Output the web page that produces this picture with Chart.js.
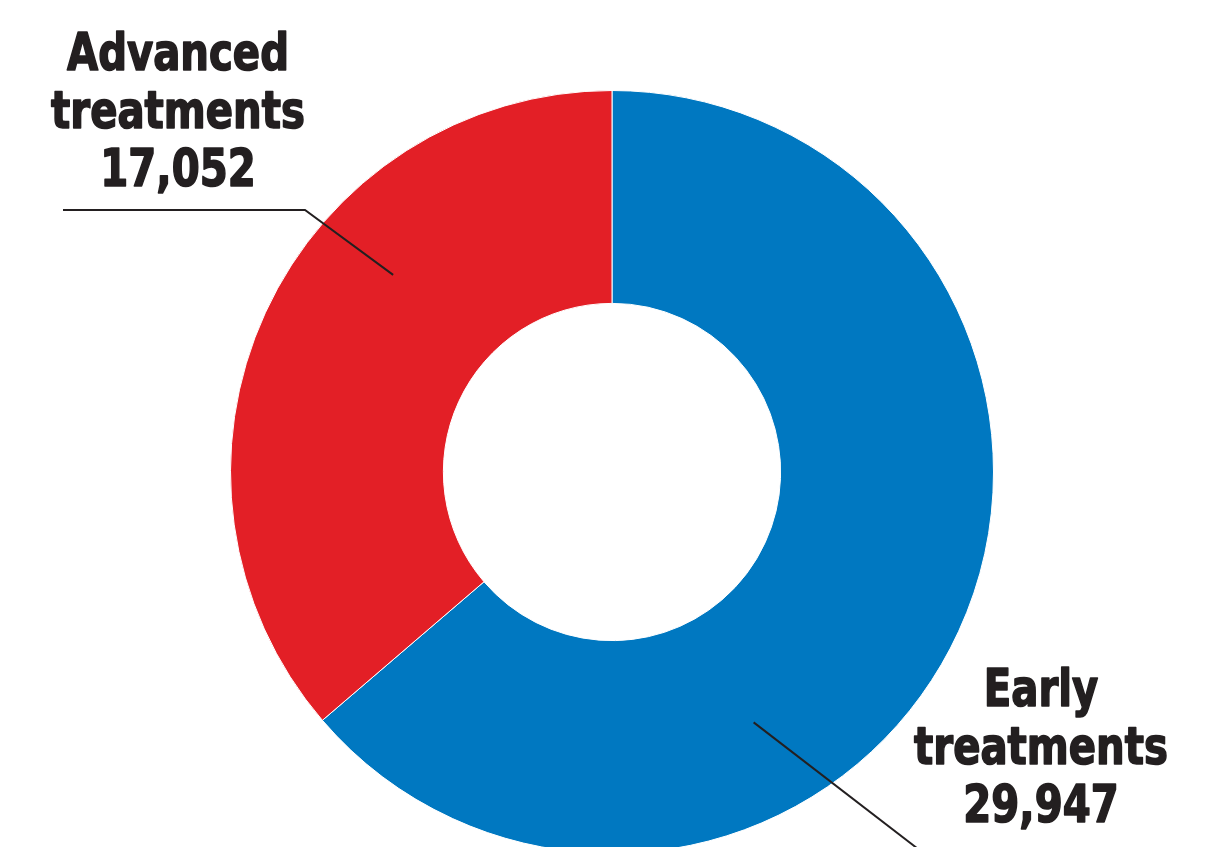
<!DOCTYPE html>
<html lang="en">
<head>
  <meta charset="UTF-8" />
  <title>Treatments</title>
  <script src="https://cdn.jsdelivr.net/npm/chart.js"></script>
  <style>
    html, body { margin: 0; padding: 0; background: #fff; overflow: hidden; }
    #wrap { width: 1219px; height: 847px; overflow: hidden; }
  </style>
</head>
<body>
  <div id="wrap">
    <canvas id="donut" width="1219" height="944"></canvas>
  </div>

  <script>
    // data
    const categories = ['Early treatments', 'Advanced treatments'];
    const counts = [29947, 17052];
    const colors = ['#0078c1', '#e31f26'];

    // label placement: text block centre + leader line anchor inside the ring
    // anchor = angle (deg, canvas) and fraction of the outer radius
    const labelLines = [['Early', 'treatments'], ['Advanced', 'treatments']];
    const labelPos = [{ x: 1041, y: 706 }, { x: 178, y: 70 }];
    const leaders = [
      { angle: 60.5, r: 0.754, path: [[935, 862]] },
      { angle: 222, r: 0.772, path: [[305, 210], [63, 210]] }
    ];

    const fmt = n => n.toLocaleString('en-US');
    const FONT = 'bold 52px "DejaVu Sans Condensed", "Liberation Sans", sans-serif';
    const SQUEEZE = 0.86; // the original face is narrower than anything installed

    const calloutPlugin = {
      id: 'callouts',
      afterDatasetsDraw(chart) {
        const ctx = chart.ctx;
        const arcs = chart.getDatasetMeta(0).data;
        ctx.save();
        arcs.forEach((arc, i) => {
          const a = leaders[i].angle * Math.PI / 180;
          const sx = arc.x + Math.cos(a) * arc.outerRadius * leaders[i].r;
          const sy = arc.y + Math.sin(a) * arc.outerRadius * leaders[i].r;
          ctx.beginPath();
          ctx.moveTo(sx, sy);
          leaders[i].path.forEach(p => ctx.lineTo(p[0], p[1]));
          ctx.strokeStyle = '#231f20';
          ctx.lineWidth = 2;
          ctx.stroke();

          ctx.save();
          ctx.translate(labelPos[i].x, labelPos[i].y);
          ctx.scale(SQUEEZE, 1);
          ctx.font = FONT;
          ctx.fillStyle = '#231f20';
          ctx.strokeStyle = '#231f20';
          ctx.lineWidth = 1.6;
          ctx.lineJoin = 'round';
          ctx.textAlign = 'center';
          ctx.textBaseline = 'alphabetic';
          const lines = labelLines[i].concat([fmt(counts[i])]);
          lines.forEach((t, k) => {
            ctx.fillText(t, 0, k * 58);
            ctx.strokeText(t, 0, k * 58);
          });
          ctx.restore();
        });
        ctx.restore();
      }
    };

    new Chart('donut', {
      type: 'doughnut',
      data: {
        labels: categories,
        datasets: [{
          data: counts,
          backgroundColor: colors,
          borderColor: '#ffffff',
          borderWidth: 1
        }]
      },
      options: {
        responsive: false,
        animation: false,
        cutout: '44.2%',
        layout: { padding: { top: 90, bottom: 90, left: 230, right: 225 } },
        plugins: { legend: { display: false }, tooltip: { enabled: false } },
        events: []
      },
      plugins: [calloutPlugin]
    });
  </script>
</body>
</html>
